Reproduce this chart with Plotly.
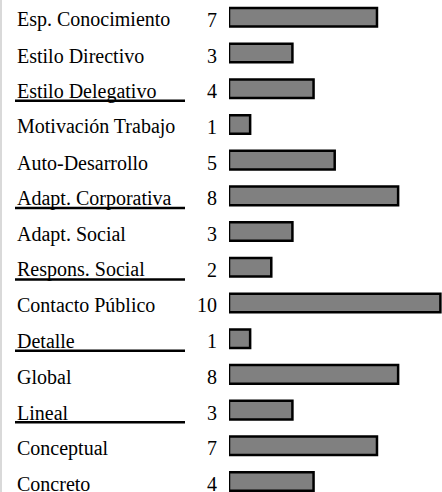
import plotly.graph_objects as go

categories = ["Esp. Conocimiento", "Estilo Directivo", "Estilo Delegativo", "Motivación Trabajo",
              "Auto-Desarrollo", "Adapt. Corporativa", "Adapt. Social", "Respons. Social",
              "Contacto Público", "Detalle", "Global", "Lineal", "Conceptual", "Concreto"]
values = [7, 3, 4, 1, 5, 8, 3, 2, 10, 1, 8, 3, 7, 4]
underlined = ["Estilo Delegativo", "Adapt. Corporativa", "Respons. Social", "Detalle", "Lineal"]

W, H = 442, 492
L = 229
plot_w = W - L
FONT = "Liberation Serif"

fig = go.Figure(go.Bar(
    y=categories, x=values, orientation="h",
    marker=dict(color="#808080", line=dict(color="black", width=2.5)),
    width=0.52,
))

def px_to_paper(px):
    return (px - L) / plot_w

annotations = []
shapes = []
for i, (c, v) in enumerate(zip(categories, values)):
    annotations.append(dict(x=px_to_paper(15), xref="paper", y=c, yref="y",
                            text=c, showarrow=False, xanchor="left", yanchor="middle",
                            yshift=-2.5, font=dict(family=FONT, size=20, color="black")))
    annotations.append(dict(x=px_to_paper(219), xref="paper", y=c, yref="y",
                            text=str(v), showarrow=False, xanchor="right", yanchor="middle",
                            yshift=-2.5, font=dict(family=FONT, size=20, color="black")))
    if c in underlined:
        shapes.append(dict(type="line", xref="paper", yref="y",
                           x0=px_to_paper(15), x1=px_to_paper(185),
                           y0=i + 0.34, y1=i + 0.34,
                           line=dict(color="black", width=2.5)))

shapes.append(dict(type="line", xref="paper", yref="paper",
                   x0=px_to_paper(1), x1=px_to_paper(1), y0=0, y1=1,
                   line=dict(color="#d9d9d9", width=2)))

k = 35.71
c0 = 17.3
fig.update_layout(
    width=W, height=H,
    margin=dict(l=L, r=0, t=0, b=0, autoexpand=False),
    plot_bgcolor="white", paper_bgcolor="white",
    showlegend=False,
    xaxis=dict(range=[0, 10 * plot_w / 211.4], visible=False, fixedrange=True),
    yaxis=dict(type="category", categoryorder="array", categoryarray=categories,
               range=[(H - c0) / k, -c0 / k], visible=False, fixedrange=True),
    annotations=annotations, shapes=shapes,
)

fig.write_html("out.html", config={"displayModeBar": False},
               post_script="document.body.style.margin='0';document.body.style.overflow='hidden';")
